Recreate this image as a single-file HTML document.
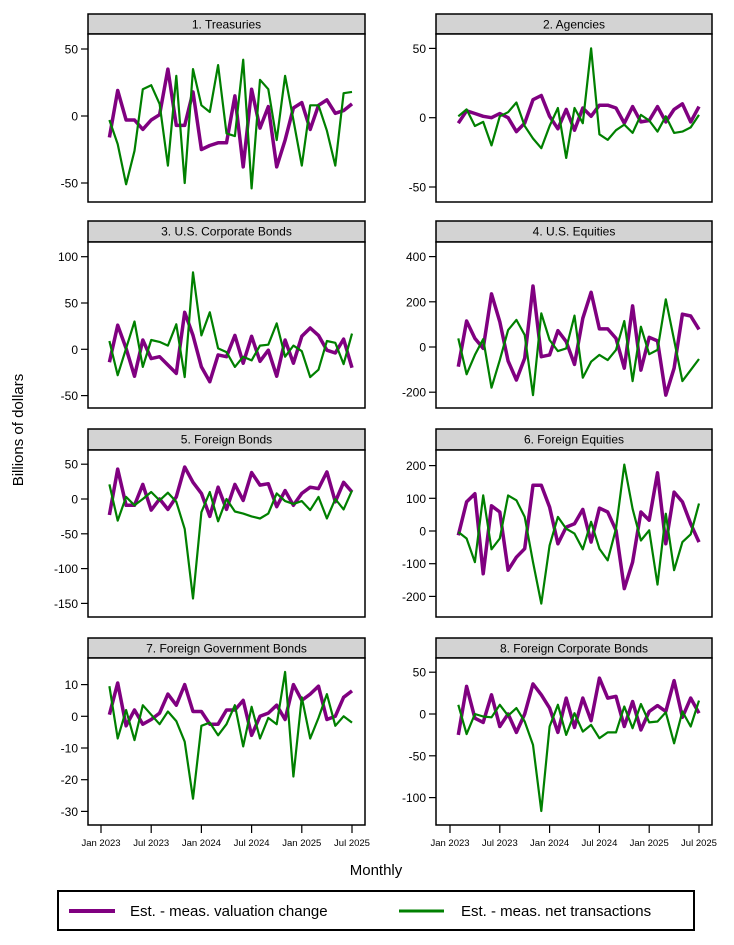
<!DOCTYPE html>
<html>
<head>
<meta charset="utf-8">
<style>
html,body{margin:0;padding:0;background:#fff;}
svg{display:block;font-family:"Liberation Sans",Arial,sans-serif;}
</style>
</head>
<body>
<svg id="chart" width="734" height="945" viewBox="0 0 734 945" xmlns="http://www.w3.org/2000/svg">
  <text x="0" y="0" transform="translate(23,430) rotate(-90)" text-anchor="middle" font-size="15" fill="#000">Billions of dollars</text>
  <text x="376" y="875" text-anchor="middle" font-size="15" fill="#000">Monthly</text>
  <g>
    <rect x="58" y="891" width="636" height="39" fill="#fff" stroke="#000" stroke-width="2"/>
    <line x1="69" y1="911" x2="115" y2="911" stroke="#800080" stroke-width="4"/>
    <text x="130" y="916" font-size="15" fill="#000">Est. - meas. valuation change</text>
    <line x1="399" y1="911" x2="444" y2="911" stroke="#008000" stroke-width="3"/>
    <text x="461" y="916" font-size="15" fill="#000">Est. - meas. net transactions</text>
  </g>
</svg>
<script>
// Months since Jan 2023 (Feb 2023 .. Jul 2025)
const months = Array.from({length:30},(_,i)=>i+1);
const xTickMonths = [0,6,12,18,24,30];
const xTickLabels = ["Jan 2023","Jul 2023","Jan 2024","Jul 2024","Jan 2025","Jul 2025"];

const titles = ["1. Treasuries","2. Agencies","3. U.S. Corporate Bonds","4. U.S. Equities","5. Foreign Bonds","6. Foreign Equities","7. Foreign Government Bonds","8. Foreign Corporate Bonds"];

const val1 = [-16,19,-3,-3,-10,-3,1,35,-7,-7,18,-25,-22,-20,-20,15,-38,20,-9,7,-38,-18,6,10,-10,8,12,2,4,9];
const net1 = [-3,-21,-51,-26,20,23,9,-37,30,-50,35,8,3,38,-13,-15,42,-54,27,20,-18,30,-3,-37,8,8,-11,-37,17,18];
const val2 = [-4,5,3,1,0,3,0,-10,-4,13,16,1,-8,6,-9,7,1,9,9,7,-4,8,-3,-2,8,-3,6,10,-3,8];
const net2 = [1,6,-6,-3,-20,1,4,11,-6,-15,-22,-6,7,-29,7,-4,50,-12,-16,-9,-5,-11,2,-2,-10,1,-11,-10,-7,2];
const val3 = [-14,26,1,-29,10,-10,-8,-17,-26,40,15,-19,-35,-6,-8,15,-15,14,-13,-1,-29,10,-15,14,23,15,-1,-4,11,-20];
const net3 = [9,-28,1,30,-19,10,8,4,27,-30,83,15,40,1,-3,-19,-8,-12,4,5,28,-8,4,-2,-30,-22,9,7,-16,17];
const val4 = [-87,115,38,-6,235,112,-62,-146,-50,270,-43,-35,72,24,-77,127,242,80,80,38,-94,182,-102,43,27,-213,-94,145,137,78];
const net4 = [38,-121,-35,35,-180,-58,75,120,53,-213,149,31,-18,-6,139,-136,-65,-35,-58,-13,115,-151,90,-32,-13,211,31,-151,-102,-53];
const val5 = [-23,43,-9,-9,21,-16,0,-15,3,46,24,8,-25,17,-15,21,-2,38,20,22,-11,12,-9,8,17,15,39,-4,24,10];
const net5 = [21,-31,3,-9,0,10,-2,9,-4,-43,-143,-19,10,-32,0,-18,-21,-25,-28,-21,8,-3,-7,-3,-16,3,-28,0,-15,12];
const val6 = [-13,89,114,-131,77,58,-120,-80,-54,140,140,73,-39,12,22,66,-34,70,58,2,-176,-95,58,33,178,-39,119,89,22,-34];
const net6 = [-3,-23,-95,109,-56,-23,109,94,43,-95,-222,-44,43,7,-8,-56,28,-54,-90,7,203,68,-29,2,-164,53,-120,-34,-10,84];
const val7 = [0.5,10.5,-3,2,-2.5,-1,1,7,3.5,10,1.5,1.5,-2.5,-2.5,2,2,5,-6,0,1,3.5,-1,10,5,7,9.5,-1,0,6,8];
const net7 = [9.5,-7,2,-7.5,3.5,0.5,-2.5,1.5,-1.5,-8,-26,-3,-2,-6,-2.5,3.5,-9.5,3,-7,-0.5,-2.5,14,-19,6,-7,-0.5,7,-3,0,-2];
const val8 = [-25,33,-5,-10,23,-15,0,-22,0,36,23,7,-22,19,-16,19,-8,43,19,21,-15,15,-19,3,10,3,40,-4,19,1];
const net8 = [11,-24,0,-3,-4,11,-2,7,-9,-37,-116,-15,11,-25,1,-21,-13,-29,-22,-22,9,-17,12,-10,-9,2,-35,3,-15,16];

const yTicks1 = [50,0,-50];
const yTicks2 = [50,0,-50];
const yTicks3 = [100,50,0,-50];
const yTicks4 = [400,200,0,-200];
const yTicks5 = [50,0,-50,-100,-150];
const yTicks6 = [200,100,0,-100,-200];
const yTicks7 = [10,0,-10,-20,-30];
const yTicks8 = [50,0,-50,-100];

const valSeries = [val1,val2,val3,val4,val5,val6,val7,val8];
const netSeries = [net1,net2,net3,net4,net5,net6,net7,net8];
const yTickSets = [yTicks1,yTicks2,yTicks3,yTicks4,yTicks5,yTicks6,yTicks7,yTicks8];

// layout (pixel geometry)
const cols = [{x0:88,x1:365,xa:101,xb:352},{x0:436,x1:712,xa:450,xb:699}];
const rows = [{h0:14,h1:34,b:202},{h0:221,h1:242,b:408},{h0:429,h1:450,b:617},{h0:638,h1:658,b:825}];
const yZero = [116,117.7,349.3,347,499,531,716.3,714];
const yScaleK = [67/50,69.3/50,46.3/50,45.2/200,34.8/50,32.7/100,31.7/10,41.8/50];

const NS="http://www.w3.org/2000/svg";
const svg=document.getElementById('chart');
function mk(tag,attrs,parent){const e=document.createElementNS(NS,tag);for(const k in attrs)e.setAttribute(k,attrs[k]);(parent||svg).appendChild(e);return e;}

for(let p=0;p<8;p++){
  const c=cols[p%2], r=rows[Math.floor(p/2)];
  const g=mk('g',{});
  
  
  const xS=m=>c.xa+m*(c.xb-c.xa)/30;
  const yS=v=>yZero[p]-v*yScaleK[p];

  const hdr=mk('rect',{x:c.x0,y:r.h0,width:c.x1-c.x0,height:r.h1-r.h0,fill:'#d3d3d3',stroke:'#000','stroke-width':1.5},g);
  
  
  const t=mk('text',{x:(c.x0+c.x1)/2,y:r.h0+14.5,'text-anchor':'middle','font-size':12,fill:'#000'},g);
  t.textContent=titles[p];
  
  

  const box=mk('rect',{x:c.x0,y:r.h1,width:c.x1-c.x0,height:r.b-r.h1,fill:'#fff',stroke:'#000','stroke-width':1.5},g);
  
  

  yTickSets[p].forEach(v=>{
    const y=yS(v);
    const tl=mk('line',{x1:c.x0-7,x2:c.x0,y1:y,y2:y,stroke:'#000','stroke-width':1.2},g);
    
    
    const tx=mk('text',{x:c.x0-10,y:y+4.5,'text-anchor':'end','font-size':12,fill:'#000'},g);
    tx.textContent=String(v);
    
    
  });

  if(p>=6){
    xTickMonths.forEach((m,i)=>{
      const x=xS(m);
      const tl=mk('line',{x1:x,x2:x,y1:r.b,y2:r.b+8,stroke:'#000','stroke-width':1.2},g);
      
      
      const tx=mk('text',{x:x,y:r.b+21,'text-anchor':'middle','font-size':9.5,fill:'#000'},g);
      tx.textContent=xTickLabels[i];
      
      
    });
  }

  const ptsV=valSeries[p].map((v,i)=>xS(months[i]).toFixed(1)+','+yS(v).toFixed(1)).join(' ');
  const lv=mk('polyline',{points:ptsV,fill:'none',stroke:'#800080','stroke-width':3.5,'stroke-linejoin':'round'},g);
  
  
  const ptsN=netSeries[p].map((v,i)=>xS(months[i]).toFixed(1)+','+yS(v).toFixed(1)).join(' ');
  const ln=mk('polyline',{points:ptsN,fill:'none',stroke:'#008000','stroke-width':2.2,'stroke-linejoin':'round'},g);
  
  
}
</script>
</body>
</html>
